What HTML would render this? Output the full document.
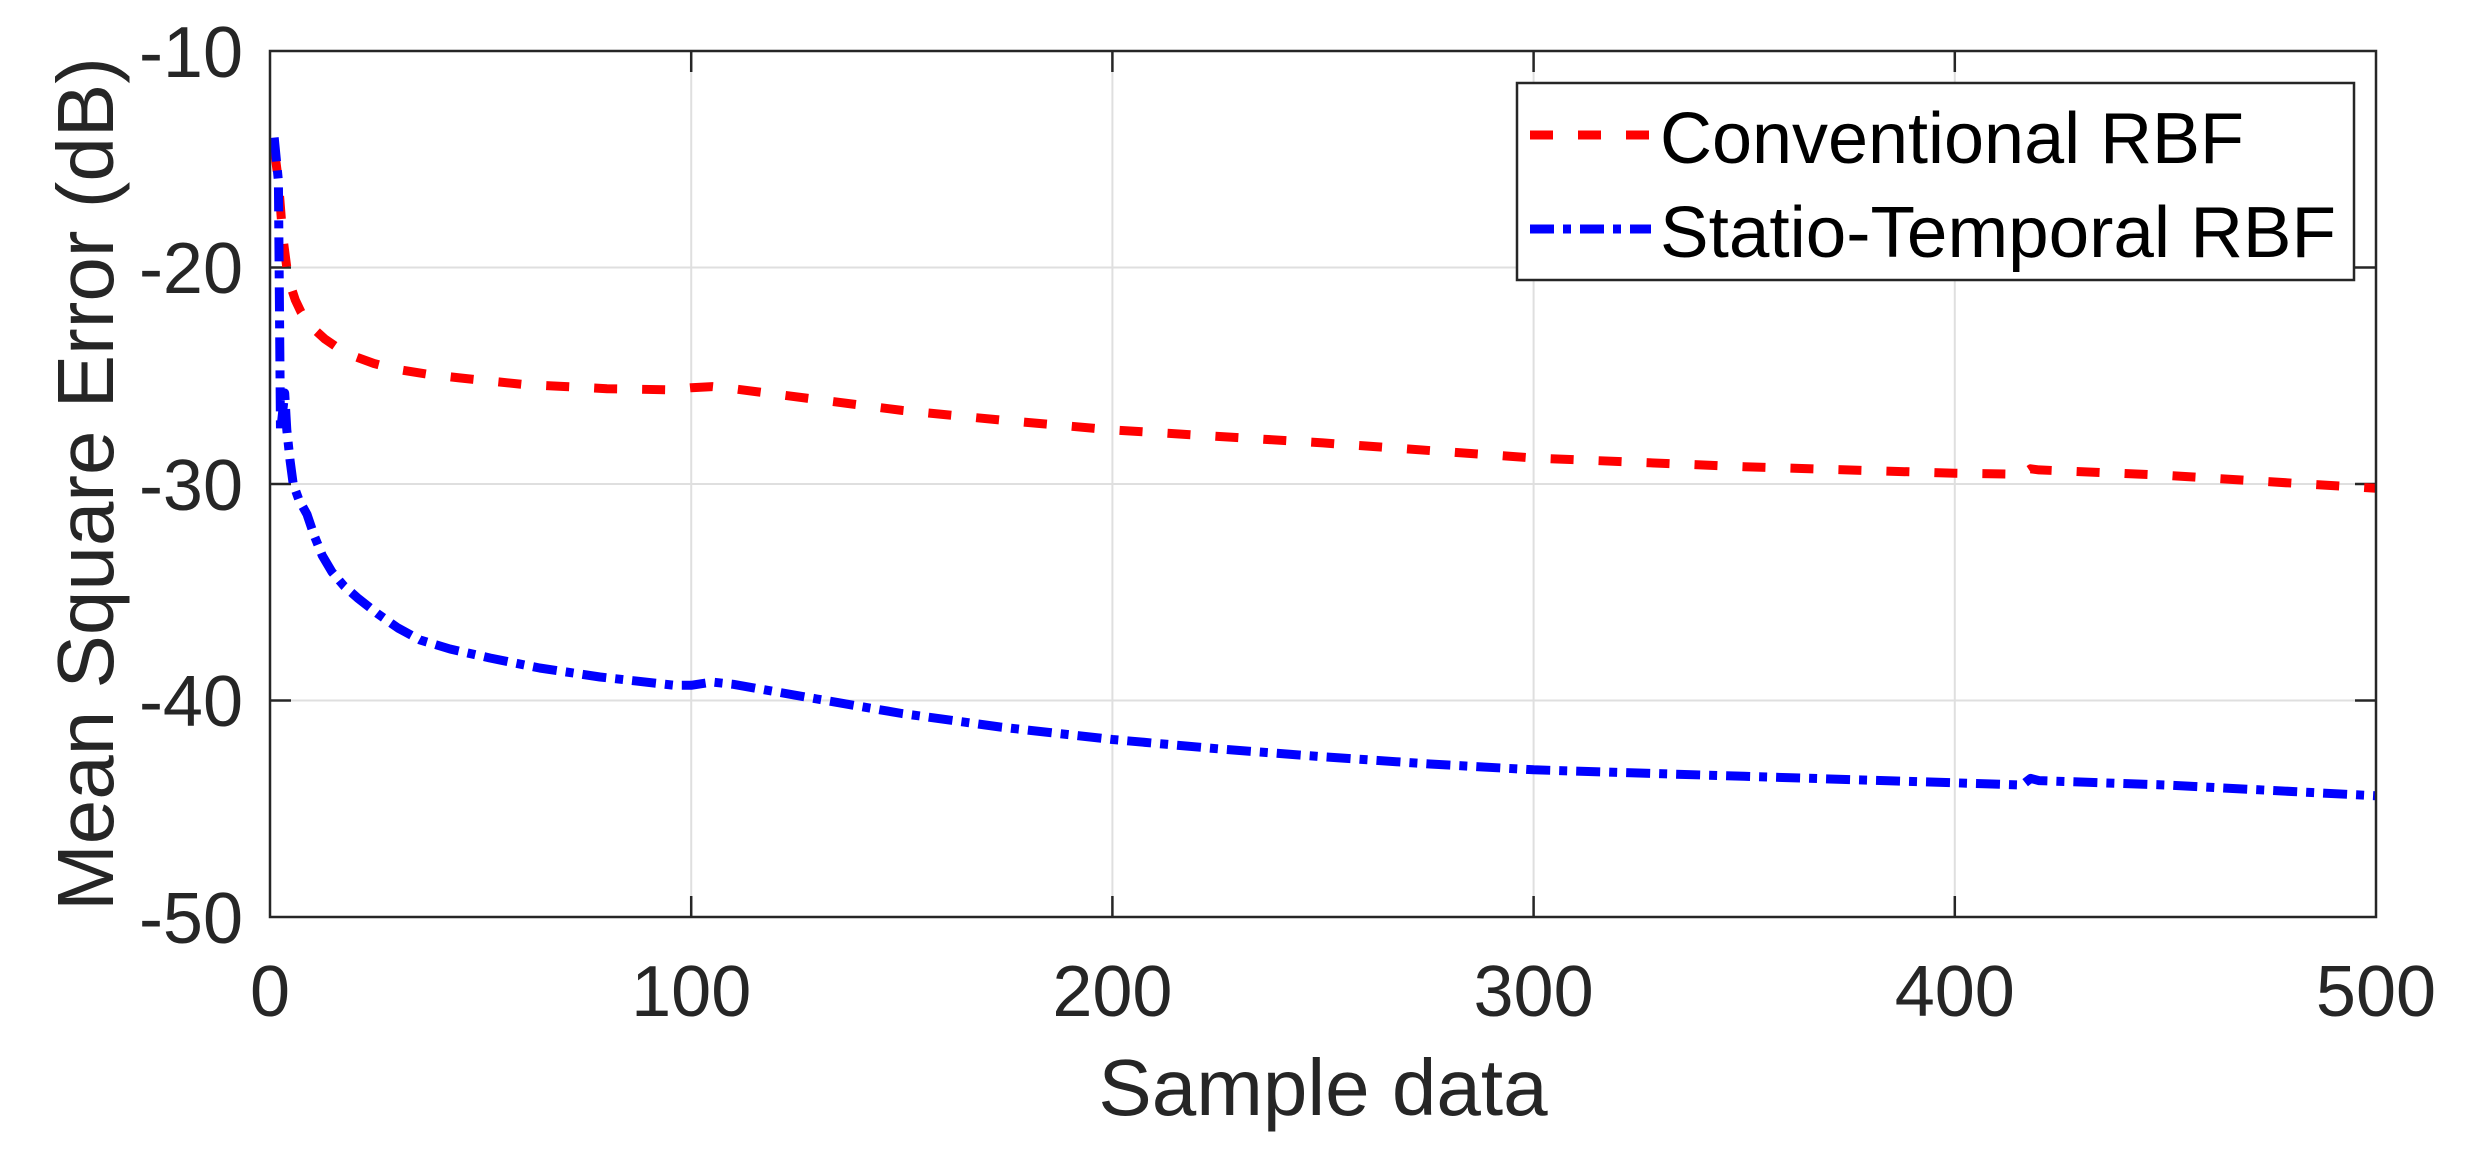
<!DOCTYPE html>
<html><head><meta charset="utf-8"><style>
html,body{margin:0;padding:0;background:#fff;}
svg{display:block;}
text{font-family:"Liberation Sans",Arial,sans-serif;fill:#262626;}
</style></head><body>
<svg width="2479" height="1157" viewBox="0 0 2479 1157" xmlns="http://www.w3.org/2000/svg">
<rect width="2479" height="1157" fill="#fff"/>
<g stroke="#dfdfdf" stroke-width="2">
<line x1="691.2" y1="51" x2="691.2" y2="917"/>
<line x1="1112.4" y1="51" x2="1112.4" y2="917"/>
<line x1="1533.6" y1="51" x2="1533.6" y2="917"/>
<line x1="1954.8" y1="51" x2="1954.8" y2="917"/>
<line x1="270" y1="267.5" x2="2376" y2="267.5"/>
<line x1="270" y1="484" x2="2376" y2="484"/>
<line x1="270" y1="700.5" x2="2376" y2="700.5"/>
</g>
<g stroke="#262626" stroke-width="2.5">
<line x1="691.2" y1="917" x2="691.2" y2="896"/><line x1="1112.4" y1="917" x2="1112.4" y2="896"/>
<line x1="1533.6" y1="917" x2="1533.6" y2="896"/><line x1="1954.8" y1="917" x2="1954.8" y2="896"/>
<line x1="691.2" y1="51" x2="691.2" y2="72"/><line x1="1112.4" y1="51" x2="1112.4" y2="72"/>
<line x1="1533.6" y1="51" x2="1533.6" y2="72"/><line x1="1954.8" y1="51" x2="1954.8" y2="72"/>
<line x1="270" y1="267.5" x2="291" y2="267.5"/><line x1="270" y1="484" x2="291" y2="484"/><line x1="270" y1="700.5" x2="291" y2="700.5"/>
<line x1="2376" y1="267.5" x2="2355" y2="267.5"/><line x1="2376" y1="484" x2="2355" y2="484"/><line x1="2376" y1="700.5" x2="2355" y2="700.5"/>
</g>
<polyline fill="none" stroke="#ff0000" stroke-width="9" stroke-linejoin="round" stroke-dasharray="23 25" points="274.2,148.4 278.4,180.9 282.6,235 286.8,267.5 291,287 295.3,300 301,312 307.9,321.6 315,330 324.8,338.9 338,348 354.2,356.3 374,363.5 396.4,369.3 426,374 459.5,377.9 522.7,384.4 607,388.7 670.1,389.8 691.2,387.7 712.3,386.6 733.3,388.7 817.6,399.6 901.8,410.4 1000,420 1112.4,429.9 1323,442.9 1533.6,458 1744.2,466.7 1954.8,473.2 2022.2,474.3 2030.6,468.8 2039,469.9 2165.4,475.3 2376,488.3"/>
<polyline fill="none" stroke="#0000ff" stroke-width="9" stroke-linejoin="round" stroke-dasharray="24 9 8 9" points="274.2,137.6 278.4,180.9 280.5,432 284.7,393 286.8,429.9 290,460 293.2,484 299,500 307,514.3 314,535 322.2,555.4 332,572 344,586 358.5,598.7 378,614 398,628 420,639.9 450,649 490,658 539.6,668 600,677 674.4,685.3 691.2,685.3 712.3,682.1 733.3,684.3 817,699 901.8,713.5 1000,727 1112.4,739.5 1220,749 1323,756.8 1430,764 1533.6,769.8 1744.2,776.3 1954.8,782.8 2022.2,785 2030.6,778.4 2039,780.6 2165.4,785 2376,795.8"/>
<rect x="270" y="51" width="2106" height="866" fill="none" stroke="#262626" stroke-width="2.5"/>
<g font-size="72" text-anchor="end">
<text x="243" y="77">-10</text>
<text x="243" y="293">-20</text>
<text x="243" y="510">-30</text>
<text x="243" y="726">-40</text>
<text x="243" y="943">-50</text>
</g>
<g font-size="72" text-anchor="middle">
<text x="270" y="1016">0</text>
<text x="691.2" y="1016">100</text>
<text x="1112.4" y="1016">200</text>
<text x="1533.6" y="1016">300</text>
<text x="1954.8" y="1016">400</text>
<text x="2376" y="1016">500</text>
</g>
<text x="1323" y="1115" font-size="80" text-anchor="middle">Sample data</text>
<text transform="translate(113,484) rotate(-90)" font-size="80" text-anchor="middle">Mean Square Error (dB)</text>
<rect x="1517" y="83" width="837" height="197" fill="#fff" stroke="#262626" stroke-width="2.5"/>
<line x1="1530" y1="135" x2="1651" y2="135" stroke="#ff0000" stroke-width="9" stroke-dasharray="23 25"/>
<line x1="1530" y1="229" x2="1651" y2="229" stroke="#0000ff" stroke-width="9" stroke-dasharray="24 9 8 9"/>
<text x="1660" y="163" font-size="72" style="fill:#000" textLength="584" lengthAdjust="spacingAndGlyphs">Conventional RBF</text>
<text x="1660" y="257" font-size="72" style="fill:#000" textLength="676" lengthAdjust="spacingAndGlyphs">Statio-Temporal RBF</text>
</svg>
</body></html>
